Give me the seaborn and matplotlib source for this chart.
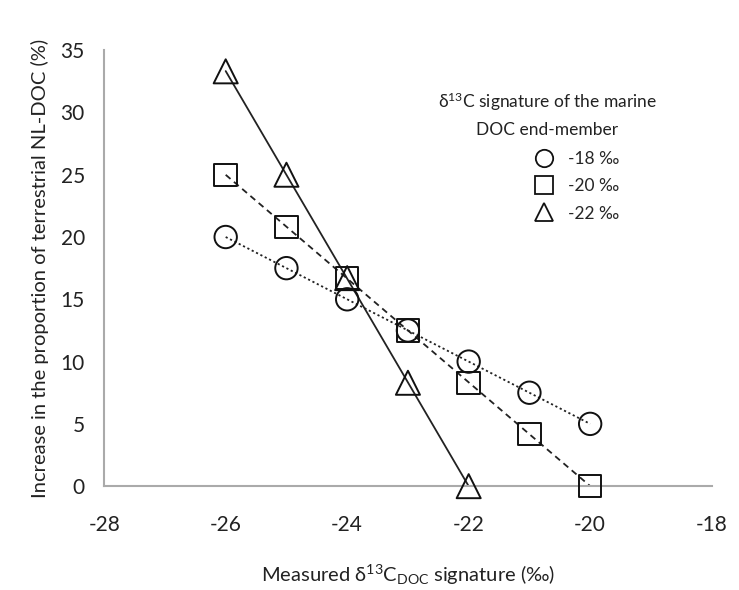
import numpy as np
import pandas as pd
import matplotlib
matplotlib.use("Agg")
import matplotlib.pyplot as plt
import seaborn as sns
from matplotlib.lines import Line2D

# measured d13C of DOC (x) and increase in terrestrial NL-DOC (%)
x_18 = [-26, -25, -24, -23, -22, -21, -20]
y_18 = [20.0, 17.5, 15.0, 12.5, 10.0, 7.5, 5.0]

x_20 = [-26, -25, -24, -23, -22, -21, -20]
y_20 = [25.0, 20.8, 16.7, 12.5, 8.3, 4.2, 0.0]

x_22 = [-26, -25, -24, -23, -22]
y_22 = [33.3, 25.0, 16.7, 8.3, 0.0]

labels = ["-18 ‰", "-20 ‰", "-22 ‰"]
markers = ["o", "s", "^"]
linestyles = [(0, (1.2, 1.5)), (0, (3.5, 2.5)), "-"]

x_ticks = [-28, -26, -24, -22, -20, -18]
y_ticks = [0, 5, 10, 15, 20, 25, 30, 35]

sns.set_style("white")
plt.rcParams["font.family"] = ["Lato", "DejaVu Sans"]
plt.rcParams["mathtext.fontset"] = "custom"
plt.rcParams["mathtext.rm"] = "Lato"
plt.rcParams["mathtext.it"] = "Lato"
plt.rcParams["axes.unicode_minus"] = False

fig = plt.figure(figsize=(7.39, 5.90), dpi=100)
ax = fig.add_axes([0.141, 0.176, 0.822, 0.739])

series = [(x_18, y_18), (x_20, y_20), (x_22, y_22)]
for (xs, ys), lab, mk, ls in zip(series, labels, markers, linestyles):
    df = pd.DataFrame({"x": xs, "y": ys})
    # linear trend line
    sns.regplot(data=df, x="x", y="y", scatter=False, ci=None, ax=ax,
                line_kws=dict(color="#222222", lw=1.3, ls=ls))
    size = 300 if mk == "^" else 260
    sns.scatterplot(data=df, x="x", y="y", marker=mk, s=size, ax=ax,
                    facecolor="none", edgecolor="#111111", linewidth=1.4,
                    zorder=3, clip_on=False)

ax.set_xlim(-28, -18)
ax.set_ylim(0, 35)
ax.set_xticks(x_ticks)
ax.set_yticks(y_ticks)
ax.tick_params(axis="both", labelsize=15, colors="#222222", length=5,
               direction="out", color="#aaaaaa", width=1.2, pad=9)
ax.tick_params(axis="x", pad=16)
for side in ["top", "right"]:
    ax.spines[side].set_visible(False)
for side in ["left", "bottom"]:
    ax.spines[side].set_color("#aaaaaa")
    ax.spines[side].set_linewidth(1.5)

ax.set_xlabel(r"Measured δ$^{13}$C$_{\mathrm{DOC}}$ signature (‰)",
              fontsize=14.5, color="#222222", labelpad=20)
ax.set_ylabel("Increase in the proportion of terrestrial NL-DOC (%)",
              fontsize=14.5, color="#222222", labelpad=8)

# legend title as two centred lines
ax.text(0.729, 0.881, "δ$^{13}$C signature of the marine", transform=ax.transAxes,
        ha="center", va="center", fontsize=12.5, color="#222222")
ax.text(0.729, 0.817, "DOC end-member", transform=ax.transAxes,
        ha="center", va="center", fontsize=12.5, color="#222222")

handles = [Line2D([], [], marker=m, ls="none", markersize=12.5,
                  markerfacecolor="none", markeredgecolor="#111111",
                  markeredgewidth=1.3) for m in markers]
leg = ax.legend(handles, labels, loc="upper left", bbox_to_anchor=(0.710, 0.768),
                frameon=False, fontsize=12.5, handlelength=1.0,
                handletextpad=0.9, labelspacing=0.64, borderpad=0,
                borderaxespad=0)

fig.savefig("out.png", dpi=100)
